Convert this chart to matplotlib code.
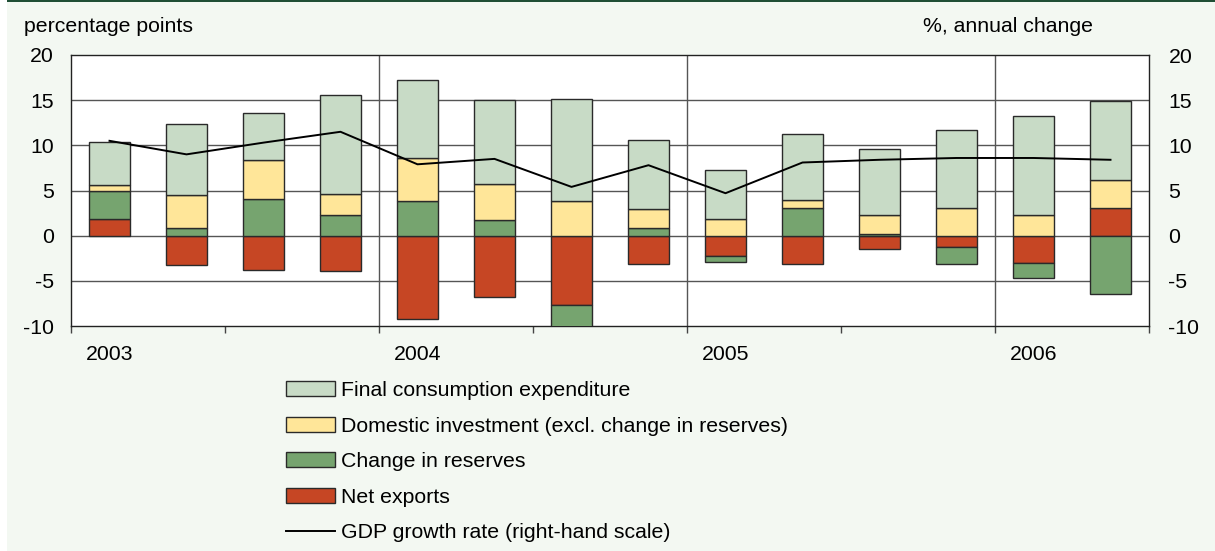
import matplotlib
matplotlib.use("Agg")
import matplotlib.pyplot as plt
from matplotlib.patches import Rectangle, Patch
from matplotlib.lines import Line2D
import numpy as np

plt.rcParams['font.family'] = ['Liberation Sans', 'DejaVu Sans']
plt.rcParams['axes.unicode_minus'] = False

quarters = ["2003Q1", "2003Q2", "2003Q3", "2003Q4",
            "2004Q1", "2004Q2", "2004Q3", "2004Q4",
            "2005Q1", "2005Q2", "2005Q3", "2005Q4",
            "2006Q1", "2006Q2"]
consumption = [4.8, 7.9, 5.2, 10.9, 8.6, 9.3, 11.3, 7.6, 5.4, 7.2, 7.3, 8.6, 10.9, 8.7]
investment = [0.7, 3.6, 4.3, 2.4, 4.8, 4.0, 3.8, 2.1, 1.9, 0.9, 2.1, 3.1, 2.3, 3.1]
reserves = [3.0, 0.85, 4.1, 2.25, 3.8, 1.7, -2.4, 0.9, -0.6, 3.1, 0.2, -1.8, -1.7, -6.5]
net_exports = [1.9, -3.2, -3.8, -3.9, -9.2, -6.8, -7.7, -3.1, -2.3, -3.1, -1.5, -1.3, -3.0, 3.1]
gdp_growth = [10.5, 9.0, 10.3, 11.5, 7.9, 8.5, 5.4, 7.8, 4.7, 8.1, 8.4, 8.6, 8.6, 8.4]
year_labels = ["2003", "2004", "2005", "2006"]
y_ticks = [-10, -5, 0, 5, 10, 15, 20]

series = [
    ("Net exports", net_exports, "#C64624"),
    ("Change in reserves", reserves, "#76A46F"),
    ("Domestic investment (excl. change in reserves)", investment, "#FFE699"),
    ("Final consumption expenditure", consumption, "#C8DBC6"),
]

W, H = 1215, 551
fig = plt.figure(figsize=(W / 100, H / 100), dpi=100, facecolor="white")
bg = "#F3F8F2"
fig.patches.append(Rectangle((7 / W, 0), 1 - 7 / W, 1, transform=fig.transFigure,
                             facecolor=bg, edgecolor="none", zorder=-10))
fig.patches.append(Rectangle((7 / W, 1 - 2 / H), 1 - 7 / W, 2 / H, transform=fig.transFigure,
                             facecolor="#1F4E35", edgecolor="none", zorder=-9))

ax = fig.add_axes([71 / W, 1 - 326 / H, (1149 - 71) / W, (326 - 55) / H])
ax.set_facecolor("white")
x = np.arange(len(quarters))
fs = 15.3

pos_base = np.zeros(len(x))
neg_base = np.zeros(len(x))
for name, vals, col in series:
    v = np.array(vals, dtype=float)
    bottoms = np.where(v >= 0, pos_base, neg_base)
    ax.bar(x, v, width=0.52, bottom=bottoms, color=col, edgecolor="#2a2a2a",
           linewidth=1.0, zorder=3)
    pos_base = pos_base + np.where(v >= 0, v, 0)
    neg_base = neg_base + np.where(v < 0, v, 0)

ax.set_xlim(-0.5, len(x) - 0.5)
ax.set_ylim(-10, 20)
ax.set_yticks(y_ticks)
ax.set_yticklabels([str(t) for t in y_ticks])
for t in y_ticks[1:-1]:
    ax.axhline(t, color="#555555", linewidth=1.0, zorder=1)
for b in [3.5, 7.5, 11.5]:
    ax.axvline(b, color="#555555", linewidth=1.0, zorder=1)

ax.set_xticks(np.arange(-0.5, len(x), 2.0))
ax.set_xticklabels([])
ax.set_xticks([0, 4, 8, 12], minor=True)
ax.set_xticklabels(year_labels, minor=True)
ax.tick_params(axis="x", which="major", direction="out", length=5, width=1, color="#444444")
ax.tick_params(axis="x", which="minor", length=0, pad=14, labelsize=fs)
ax.tick_params(axis="y", length=0, pad=12.5, labelsize=fs)
for s in ax.spines.values():
    s.set_color("#222222")
    s.set_linewidth(1.0)

ax2 = ax.twinx()
ax2.set_ylim(-10, 20)
ax2.set_yticks(y_ticks)
ax2.set_yticklabels([str(t) for t in y_ticks])
ax2.tick_params(axis="y", length=0, pad=14, labelsize=fs)
ax2.plot(x, gdp_growth, color="black", linewidth=1.4, zorder=5)
for s in ax2.spines.values():
    s.set_visible(False)

fig.text(24 / W, 1 - 27 / H, "percentage points", fontsize=fs, ha="left", va="center")
fig.text(1093 / W, 1 - 27 / H, "%, annual change", fontsize=fs, ha="right", va="center")

handles = [Patch(facecolor=c, edgecolor="#2a2a2a", linewidth=1.0) for _, _, c in series[::-1]]
handles.append(Line2D([], [], color="black", linewidth=1.4))
labels = [n for n, _, _ in series[::-1]] + ["GDP growth rate (right-hand scale)"]
fig.legend(handles, labels, loc="upper left", bbox_to_anchor=(286 / W, 1 - 381 / H),
           frameon=False, fontsize=fs, borderpad=0, borderaxespad=0,
           handlelength=2.3, handleheight=0.72, handletextpad=0.3, labelspacing=0.78)

fig.savefig("out.png", dpi=100, facecolor="white")
